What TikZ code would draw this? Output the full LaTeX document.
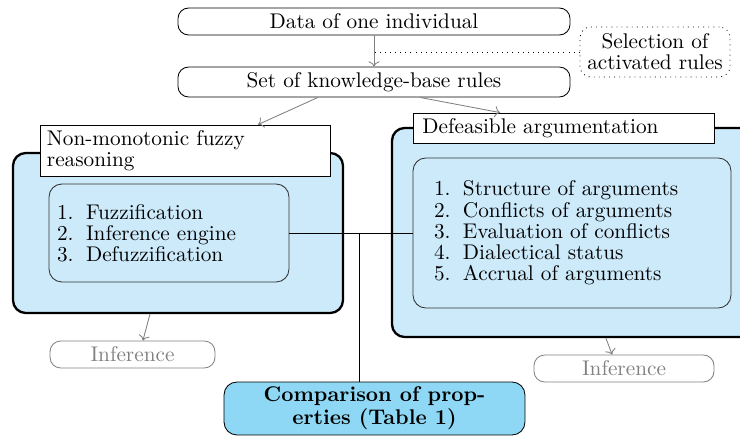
\documentclass[tikz,border=0pt]{standalone}
\usetikzlibrary{arrows.meta,calc}
\definecolor{lightbg}{HTML}{CDEAFA}
\definecolor{compbg}{HTML}{8ED8F5}
\newcommand\itm[2]{\makebox[13.6pt][l]{#1}#2}
\begin{document}
\begin{tikzpicture}[x=0.4706pt,y=-0.4706pt,
  every node/.style={font=\fontsize{10}{10}\selectfont, inner sep=0pt},
  topbox/.style={draw, rounded corners=5pt, thin},
  dotbox/.style={draw, dotted, rounded corners=5pt, align=center},
  bigbox/.style={draw, fill=lightbg, rounded corners=6pt, line width=1.1pt},
  labbox/.style={draw, fill=white, thin},
  innerbox/.style={draw=black!80, fill=lightbg, rounded corners=6pt, thin},
  compbox/.style={draw, fill=compbg, rounded corners=6pt, thin, align=center, font=\fontsize{10}{11}\selectfont\bfseries},
  infbox/.style={draw=gray, rounded corners=5pt, thin, text=gray},
  garrow/.style={draw=gray, ->, thin},
  conn/.style={draw, thin}]
\useasboundingbox (0,0) rectangle (740,437);

% top boxes
\node[topbox, minimum width=184.5pt, minimum height=12.7pt] (data) at (374,21.5) {Data of one individual};
\node[topbox, minimum width=184.5pt, minimum height=14.1pt] (set) at (374,82) {Set of knowledge-base rules};
\node[dotbox, minimum width=70.6pt, minimum height=23.5pt] (sel) at (655,52) {Selection of\\activated rules};

% big boxes
\node[bigbox, minimum width=155.3pt, minimum height=75.3pt] (lb) at (178,233) {};
\node[bigbox, minimum width=173.2pt, minimum height=98.4pt] (rb) at (576,232.5) {};

% label boxes
\node[labbox, minimum width=136.5pt, minimum height=24pt, text width=129.9pt, align=left, inner xsep=3.3pt] (ll) at (185,150.5) {Non-monotonic fuzzy\\reasoning};
\node[labbox, minimum width=137.4pt, minimum height=14.1pt, text width=133.2pt, align=left, inner xsep=4.2pt] (rl) at (564,128) {Defeasible argumentation};

% inner boxes
\node[innerbox, minimum width=112.9pt, minimum height=46.1pt, text width=105.3pt, align=left, inner xsep=3.8pt] (li) at (169,233)
  {\itm{1.}{Fuzzification}\\\itm{2.}{Inference engine}\\\itm{3.}{Defuzzification}};
\node[innerbox, minimum width=149.6pt, minimum height=70.6pt, text width=129.8pt, align=left, inner xsep=9.9pt] (ri) at (572,233)
  {\itm{1.}{Structure of arguments}\\\itm{2.}{Conflicts of arguments}\\\itm{3.}{Evaluation of conflicts}\\\itm{4.}{Dialectical status}\\\itm{5.}{Accrual of arguments}};

% comparison and inference
\node[compbox, minimum width=141.6pt, minimum height=24.9pt] (comp) at (374.5,408.5) {Comparison of prop-\\erties (Table 1)};
\node[infbox, minimum width=77.6pt, minimum height=12.7pt] (linf) at (132.5,354.5) {Inference};
\node[infbox, minimum width=84.7pt, minimum height=12.7pt] (rinf) at (624,368.5) {Inference};

% connectors
\draw[garrow] (data.south) -- (set.north);
\coordinate (dj) at (data.south |- sel.west);
\draw[dotted] (sel.west) -- (dj);
\draw[garrow] ([xshift=-26.4pt]set.south) -- ([xshift=34.4pt]ll.north);
\draw[garrow] ([xshift=21.6pt]set.south) -- ([xshift=-30.1pt]rl.north);
\draw[garrow] ([xshift=-13.2pt]lb.south) -- ([xshift=4.9pt]linf.north);
\draw[garrow] ([xshift=14.1pt]rb.south) -- ([xshift=-5.6pt]rinf.north);
\draw[conn] (li.east) -- (ri.west);
\coordinate (vj) at ([xshift=-7.3pt]comp.north |- li.east);
\draw[conn] (vj) -- (vj |- comp.north);
\end{tikzpicture}
\end{document}
